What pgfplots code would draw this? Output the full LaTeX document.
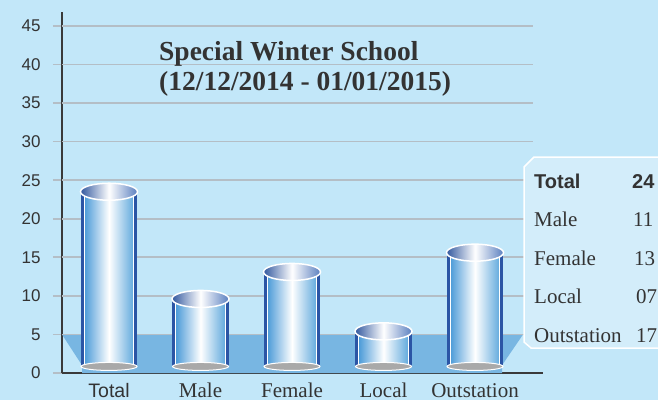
\documentclass[border=0pt]{standalone}
\usepackage{fontspec}
\setmainfont{Liberation Serif}
\setsansfont{Liberation Sans}
\usepackage{pgfplots}
\pgfplotsset{compat=1.18}
\usetikzlibrary{shapes.geometric}
\definecolor{bg}{HTML}{C2E7F9}
\definecolor{floorc}{HTML}{78B6E2}
\definecolor{gridc}{HTML}{B4BEC6}
\definecolor{axisc}{HTML}{3A3A3A}
\definecolor{txt}{HTML}{333333}
\definecolor{cyldark}{HTML}{2B55A5}
\definecolor{cylL}{HTML}{4C9BD8}
\definecolor{cylR}{HTML}{62AADD}
\definecolor{capL}{HTML}{33599F}
\definecolor{capR}{HTML}{5A7FBF}
\definecolor{boxc}{HTML}{D3EDFA}
\definecolor{baseg}{HTML}{A9A9A9}
\begin{document}
\begin{tikzpicture}[x=1pt,y=1pt]
\useasboundingbox (0,0) rectangle (658,400);
\fill[bg] (0,0) rectangle (658,400);
\begin{axis}[
  at={(62pt,27pt)}, anchor=south west,
  scale only axis, width=481pt, height=361pt,
  xmin=-0.514, xmax=4.743, ymin=0, ymax=46.8,
  axis lines=left,
  axis line style={-, line width=2.7pt, axisc},
  ytick={0,5,...,45},
  xtick={0,1,2,3,4},
  xticklabels={{\sffamily\fontsize{19.5}{19.5}\selectfont Total}, Male, Female, Local, Outstation},
  major tick length=9pt, tick align=outside,
  ytick style={gridc, line width=1.6pt},
  xtick style={draw=none},
  /pgf/number format/assume math mode=true,
  yticklabel style={font=\sffamily\fontsize{17}{17}\selectfont, text=txt, xshift=-9pt},
  xticklabel style={font=\fontsize{21}{21}\selectfont, text=txt, anchor=base, yshift=-15pt},
  clip=false,
]
% floor
\addplot[fill=floorc, draw=none] coordinates {(-0.514,5) (4.525,5) (4.295,1.0) (4.295,0) (-0.295,0) (-0.295,1.0)} -- cycle;
% grid
\pgfplotsinvokeforeach{5,10,15,20,25,30,35,40,45}{
  \draw[gridc, line width=1.6pt] (axis cs:-0.514,#1) -- (axis cs:4.634,#1);
}
% cylinder bodies
\addplot[fill=cyldark, draw=none] coordinates {(-0.311,0.85) (-0.311,23.5) (0.311,23.5) (0.311,0.85)} -- cycle;
\addplot[left color=cylL, right color=cylR, middle color=white, draw=white, line width=1pt] coordinates {(-0.27,0.85) (-0.27,23.5) (0.27,23.5) (0.27,0.85)} -- cycle;
\addplot[fill=cyldark, draw=none] coordinates {(0.689,0.85) (0.689,9.6) (1.311,9.6) (1.311,0.85)} -- cycle;
\addplot[left color=cylL, right color=cylR, middle color=white, draw=white, line width=1pt] coordinates {(0.73,0.85) (0.73,9.6) (1.27,9.6) (1.27,0.85)} -- cycle;
\addplot[fill=cyldark, draw=none] coordinates {(1.689,0.85) (1.689,13.1) (2.311,13.1) (2.311,0.85)} -- cycle;
\addplot[left color=cylL, right color=cylR, middle color=white, draw=white, line width=1pt] coordinates {(1.73,0.85) (1.73,13.1) (2.27,13.1) (2.27,0.85)} -- cycle;
\addplot[fill=cyldark, draw=none] coordinates {(2.689,0.85) (2.689,5.4) (3.311,5.4) (3.311,0.85)} -- cycle;
\addplot[left color=cylL, right color=cylR, middle color=white, draw=white, line width=1pt] coordinates {(2.73,0.85) (2.73,5.4) (3.27,5.4) (3.27,0.85)} -- cycle;
\addplot[fill=cyldark, draw=none] coordinates {(3.689,0.85) (3.689,15.6) (4.311,15.6) (4.311,0.85)} -- cycle;
\addplot[left color=cylL, right color=cylR, middle color=white, draw=white, line width=1pt] coordinates {(3.73,0.85) (3.73,15.6) (4.27,15.6) (4.27,0.85)} -- cycle;
% bottom ellipses
\addplot[draw=none, mark=none, nodes near coords={\relax},
  every node near coord/.style={ellipse, minimum width=56pt, minimum height=8pt, inner sep=0pt, fill=baseg, draw=white, line width=1pt, anchor=center}]
  coordinates {(0,0.85) (1,0.85) (2,0.85) (3,0.85) (4,0.85)};
% top caps
\addplot[draw=none, mark=none, nodes near coords={\relax},
  every node near coord/.style={ellipse, minimum width=57pt, minimum height=17pt, inner sep=0pt, left color=capL, right color=capR, middle color=white, draw=white, line width=1.5pt, anchor=center}]
  coordinates {(0,23.5) (1,9.6) (2,13.1) (3,5.4) (4,15.6)};
\end{axis}
% title
\node[anchor=base west, inner sep=0, text=txt, font=\bfseries\fontsize{27.5}{27.5}\selectfont] at (159,340) {Special Winter School};
\node[anchor=base west, inner sep=0, text=txt, font=\bfseries\fontsize{27.5}{27.5}\selectfont] at (159,310) {(12/12/2014 - 01/01/2015)};
% table box
\draw[white, line width=1.5pt, fill=boxc] (662,243) -- (534,243) -- (524,233) -- (524,58) -- (531,52) -- (662,52);
\begin{scope}[every node/.style={anchor=base west, inner sep=0, text=txt, font=\fontsize{21}{21}\selectfont}]
\node[font=\sffamily\bfseries\fontsize{20}{20}\selectfont] at (534,212) {Total};
\node[font=\sffamily\bfseries\fontsize{20}{20}\selectfont] at (632,212) {24};
\node at (534,174) {Male};       \node at (633,174) {11};
\node at (534,135) {Female};     \node at (634,135) {13};
\node at (534,97) {Local};       \node at (636,97) {07};
\node at (534,58) {Outstation};  \node at (636,58) {17};
\end{scope}
\end{tikzpicture}
\end{document}
